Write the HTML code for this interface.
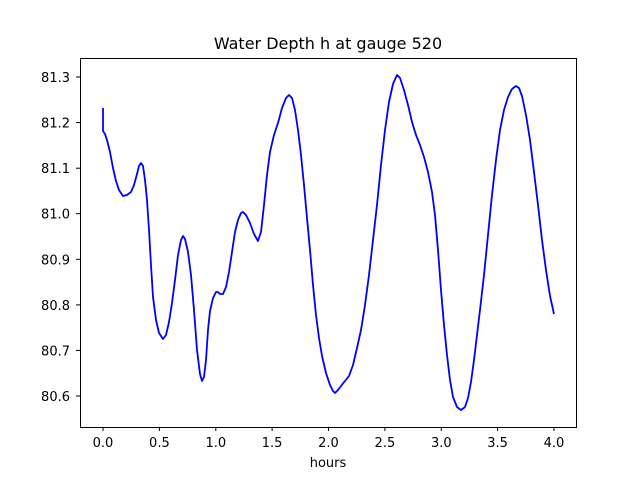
<!DOCTYPE html>
<html><head><style>body{margin:0;background:#fff}svg{display:block}text{font-family:"DejaVu Sans","Liberation Sans",sans-serif;font-size:13px;fill:#000}</style></head><body>
<svg width="640" height="480" xmlns="http://www.w3.org/2000/svg">
<rect width="640" height="480" fill="#fff"/>
<text x="328" y="49" text-anchor="middle" style="font-size:16px">Water Depth h at gauge 520</text>
<polyline fill="none" stroke="#0000ff" stroke-width="1.8" stroke-linejoin="round" points="103,108 103,131 105,134 107,140 110,152 113,168 116,181 119,190 123,196 127,195 131,192 134,185 137,174 139,166 141,163 143,166 145,180 147,200 149,230 151,265 153,297 156,320 159,333 163,339 166,335 169,322 172,303 175,280 178,255 181,240 183,236 185,239 188,252 191,275 194,310 197,350 200,374 202,381 204,377 206,360 208,330 210,311 213,298 216,292 218,292 220,294 223,294 226,287 229,272 232,252 235,232 238,220 241,213 243,212 246,215 250,223 254,234 258,241 261,232 264,205 267,175 270,152 274,135 278,123 282,108 286,98 289,95 292,98 295,110 298,130 301,155 304,185 307,218 310,250 313,285 316,315 319,338 322,356 326,373 330,385 333,391 335,393 338,390 341,386 345,381 349,376 353,365 357,348 361,330 365,305 369,275 373,240 377,205 381,165 385,130 389,102 393,84 397,75 400,78 404,90 408,105 412,122 416,135 420,145 424,157 428,172 432,192 435,215 438,250 441,290 444,325 447,355 450,380 453,397 457,407 461,410 465,407 468,398 471,382 474,360 477,335 480,310 484,275 488,235 492,195 496,160 500,130 504,110 508,97 512,89 516,86 519,88 522,96 526,115 530,140 534,172 538,205 542,240 546,270 550,296 554,314"/>
<rect x="80.5" y="58.5" width="496" height="369" fill="none" stroke="#000" stroke-width="1"/>
<g stroke="#000" stroke-width="1">
<line x1="103" y1="427" x2="103" y2="431"/><line x1="159.4" y1="427" x2="159.4" y2="431"/><line x1="215.8" y1="427" x2="215.8" y2="431"/><line x1="272.1" y1="427" x2="272.1" y2="431"/><line x1="328.5" y1="427" x2="328.5" y2="431"/><line x1="384.9" y1="427" x2="384.9" y2="431"/><line x1="441.3" y1="427" x2="441.3" y2="431"/><line x1="497.6" y1="427" x2="497.6" y2="431"/><line x1="554" y1="427" x2="554" y2="431"/>
<line x1="76" y1="77" x2="80" y2="77"/><line x1="76" y1="122.6" x2="80" y2="122.6"/><line x1="76" y1="168.2" x2="80" y2="168.2"/><line x1="76" y1="213.7" x2="80" y2="213.7"/><line x1="76" y1="259.3" x2="80" y2="259.3"/><line x1="76" y1="304.9" x2="80" y2="304.9"/><line x1="76" y1="350.4" x2="80" y2="350.4"/><line x1="76" y1="396" x2="80" y2="396"/>
</g>
<g text-anchor="middle">
<text x="103" y="447">0.0</text><text x="159.4" y="447">0.5</text><text x="215.8" y="447">1.0</text><text x="272.1" y="447">1.5</text><text x="328.5" y="447">2.0</text><text x="384.9" y="447">2.5</text><text x="441.3" y="447">3.0</text><text x="497.6" y="447">3.5</text><text x="554" y="447">4.0</text>
<text x="328" y="467">hours</text>
</g>
<g text-anchor="end">
<text x="70" y="82">81.3</text><text x="70" y="127.6">81.2</text><text x="70" y="173.2">81.1</text><text x="70" y="218.7">81.0</text><text x="70" y="264.3">80.9</text><text x="70" y="309.9">80.8</text><text x="70" y="355.4">80.7</text><text x="70" y="401">80.6</text>
</g>
</svg>
</body></html>
